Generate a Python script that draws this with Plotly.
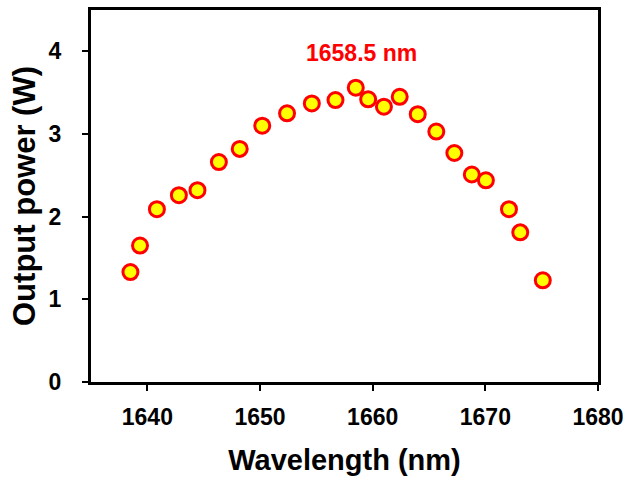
import plotly.graph_objects as go

wavelength_nm = [1638.5, 1639.35, 1640.85, 1642.8, 1644.45, 1646.35, 1648.2, 1650.2,
                 1652.4, 1654.6, 1656.7, 1658.5, 1659.6, 1661.0, 1662.4, 1664.0,
                 1665.65, 1667.25, 1668.8, 1670.05, 1672.1, 1673.1, 1675.1]
output_power_w = [1.33, 1.65, 2.09, 2.26, 2.32, 2.66, 2.82, 3.10,
                  3.25, 3.37, 3.41, 3.56, 3.42, 3.33, 3.45, 3.24,
                  3.03, 2.77, 2.51, 2.44, 2.09, 1.81, 1.23]
peak_label = "1658.5 nm"
peak_label_pos = (1659.0, 3.98)
x_ticks = [1640, 1650, 1660, 1670, 1680]
y_ticks = [0, 1, 2, 3, 4]

FONT = "Liberation Sans, Arial, sans-serif"

fig = go.Figure()
fig.add_trace(go.Scatter(
    x=wavelength_nm, y=output_power_w, mode="markers",
    marker=dict(size=15, color="#FFFF00", line=dict(color="#FF0000", width=3)),
    showlegend=False, hoverinfo="x+y",
))

fig.add_annotation(
    x=peak_label_pos[0], y=peak_label_pos[1], text="<b>" + peak_label + "</b>",
    showarrow=False, font=dict(family=FONT, size=23, color="#FF0000"),
    xanchor="center", yanchor="middle",
)

axis_common = dict(
    showline=True, linecolor="black", linewidth=3, mirror=True,
    ticks="outside", ticklen=6, tickwidth=2, tickcolor="black",
    showgrid=False, zeroline=False, automargin=False,
    ticklabeloverflow="allow",
    tickfont=dict(family=FONT, size=23, color="black", weight="bold"),
)

fig.update_layout(
    width=623, height=480,
    margin=dict(l=91, r=25, t=10, b=98),
    paper_bgcolor="white", plot_bgcolor="white",
    font=dict(family=FONT, color="black"),
    xaxis=dict(
        range=[1635, 1680], tickvals=x_ticks, ticklabelstandoff=6,
        title=dict(text="<b>Wavelength (nm)</b>", font=dict(family=FONT, size=29, color="black"), standoff=22),
        **axis_common,
    ),
    yaxis=dict(
        range=[0, 4.5], tickvals=y_ticks, ticklabelstandoff=16,
        title=dict(text="<b>Output power (W)</b>", font=dict(family=FONT, size=31, color="black"), standoff=4),
        **axis_common,
    ),
)

fig.write_html("out.html")
